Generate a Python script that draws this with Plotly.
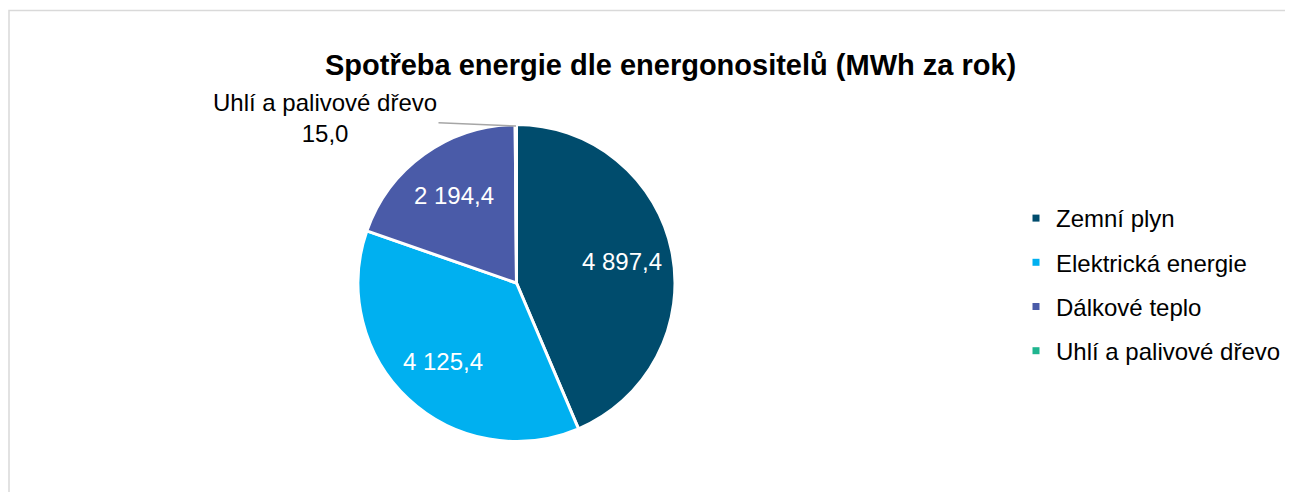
import math
import plotly.graph_objects as go

labels = ["Zemní plyn", "Elektrická energie", "Dálkové teplo", "Uhlí a palivové dřevo"]
values = [4897.4, 4125.4, 2194.4, 15.0]
colors = ["#004C6D", "#00B0F0", "#4A5BA8", "#1FB58F"]
title_text = "Spotřeba energie dle energonositelů (MWh za rok)"

W, H = 1293, 492
FONT = "Liberation Sans, Arial"

def fmt(v):
    return f"{v:,.1f}".replace(",", " ").replace(".", ",")

text = [fmt(v) for v in values]

# page body has an 8px margin; coordinates below are in figure pixels
def px(x):
    return x / W

def py(y):
    return (H - y) / H

PIE_X = (350, 667)
PIE_Y = (116, 434)

fig = go.Figure()
fig.add_trace(go.Pie(
    labels=labels, values=values, textinfo="none",
    sort=False, direction="clockwise", rotation=0,
    marker=dict(colors=colors, line=dict(color="white", width=3)),
    domain=dict(x=[px(PIE_X[0]), px(PIE_X[1])], y=[py(PIE_Y[1]), py(PIE_Y[0])]),
    showlegend=False, hoverinfo="label+value",
))

# inside data labels at ~0.68 of the radius, on each slice's mid-angle
cx = (PIE_X[0] + PIE_X[1]) / 2
cy = (PIE_Y[0] + PIE_Y[1]) / 2
r = (PIE_X[1] - PIE_X[0]) / 2
total = sum(values)
cum = 0.0
for i, v in enumerate(values):
    mid = (cum + v / 2) / total * 2 * math.pi
    cum += v
    if i == 3:
        continue
    lx = cx + 0.68 * r * math.sin(mid)
    ly = cy - 0.68 * r * math.cos(mid)
    fig.add_annotation(x=px(lx), y=py(ly), xref="paper", yref="paper",
                       text=text[i], showarrow=False,
                       font=dict(size=24, color="white", family=FONT),
                       xanchor="center", yanchor="middle")

for i, (lab, col) in enumerate(zip(labels, colors)):
    fig.add_trace(go.Scatter(
        x=[None], y=[None], mode="markers", name=lab,
        marker=dict(symbol="square", size=7, color=col),
        legendgroup=f"g{i}", showlegend=True,
    ))

fig.add_annotation(
    x=px(508), y=py(118), xref="paper", yref="paper",
    text=f"{labels[3]}<br>{text[3]}", showarrow=True, arrowhead=0,
    arrowcolor="#A6A6A6", arrowwidth=1.5, ax=-191, ay=-8,
    font=dict(size=24, color="#000000", family=FONT),
    align="center",
)

fig.add_annotation(
    x=px(662), y=py(57), xref="paper", yref="paper",
    text=f"<b>{title_text}</b>", showarrow=False,
    font=dict(size=29, color="#000000", family=FONT),
    xanchor="center", yanchor="middle",
)

fig.add_shape(type="rect", xref="paper", yref="paper",
              x0=px(1), x1=1.05, y0=-0.1, y1=py(2.5),
              line=dict(color="#D9D9D9", width=1.5), fillcolor="rgba(0,0,0,0)")

fig.update_layout(
    width=W, height=H, margin=dict(l=0, r=0, t=0, b=0),
    paper_bgcolor="white", plot_bgcolor="white",
    xaxis=dict(visible=False), yaxis=dict(visible=False),
    legend=dict(x=px(1008), y=py(188), xanchor="left", yanchor="top",
                font=dict(size=24, color="#000000", family=FONT),
                tracegroupgap=10, itemwidth=30, bgcolor="rgba(0,0,0,0)"),
    font=dict(family=FONT),
)

fig.write_html("out.html")
